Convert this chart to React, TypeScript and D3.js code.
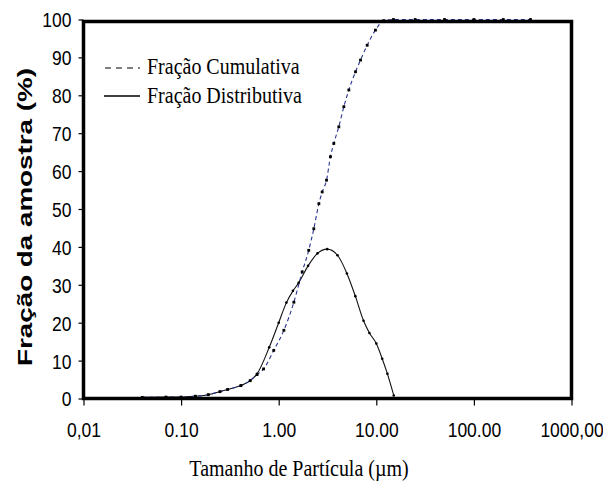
import React, { useEffect, useRef } from "react";
import * as d3 from "d3";

// particle size (µm) and % for each curve
const distSize = [0.04, 0.07, 0.1, 0.14, 0.19, 0.25, 0.3, 0.41, 0.51, 0.6, 0.8, 1.0, 1.2, 1.4, 1.6, 2.0, 2.5, 3.14, 4.0, 5.0, 6.1, 7.4, 8.5, 10, 11.5, 13, 15.1];
const distValue = [0.3, 0.35, 0.35, 0.6, 1.0, 1.8, 2.4, 3.4, 4.7, 6.5, 13.5, 20, 25.3, 28.4, 30.5, 35, 38.3, 39.4, 37.8, 33, 27, 20.5, 17.3, 14.5, 10.5, 6.5, 0.8];

const cumSize = [0.04, 0.07, 0.1, 0.14, 0.19, 0.25, 0.3, 0.41, 0.51, 0.6, 0.7, 0.89, 1.13, 1.43, 1.74, 2.03, 2.29, 2.58, 2.79, 3.09, 3.39, 3.67, 4.13, 4.65, 5.23, 6.12, 6.89, 8.06, 9.8, 11.9, 15, 25, 50, 100, 200, 380];
const cumValue = [0.3, 0.35, 0.35, 0.6, 1.0, 1.8, 2.4, 3.4, 4.7, 6.3, 7.8, 12.7, 18, 25.4, 33.4, 39.1, 44.8, 51.4, 54.5, 57.6, 63.8, 67.3, 71.7, 77, 81.4, 86.2, 89.3, 93.2, 97.2, 99.7, 100, 100, 100, 100, 100, 100];

const xTicks = [0.01, 0.1, 1, 10, 100, 1000];
const xTickLabels = ["0,01", "0.10", "1.00", "10.00", "100.00", "1000,00"];
const yTicks = [0, 10, 20, 30, 40, 50, 60, 70, 80, 90, 100];

const legendLabels = ["Fração Cumulativa", "Fração Distributiva"];

const left = 83.5, right = 571.5, top = 19.5, bottom = 398.5;

export default function App() {
  const gRef = useRef<SVGGElement | null>(null);

  useEffect(() => {
    const g = d3.select(gRef.current);
    g.selectAll("*").remove();

    const stretch = 1.18; // the source picture is a bit taller than wide

    const x = d3.scaleLog().domain([0.01, 1000]).range([left, right]);
    const y = d3.scaleLinear().domain([0, 100]).range([bottom, top]);

    // axes
    const xAxis = g.append("g")
      .attr("transform", `translate(0,${bottom})`)
      .call(d3.axisBottom(x).tickValues(xTicks).tickFormat((d, i) => xTickLabels[i]).tickSize(7));
    xAxis.select(".domain").remove();
    xAxis.selectAll("line").attr("stroke", "#000").attr("stroke-width", 1.2);
    xAxis.selectAll("text")
      .attr("y", 0).attr("dy", null)
      .attr("transform", `translate(0,38) scale(1,${stretch})`)
      .attr("font-family", "Liberation Sans, Arial, sans-serif")
      .attr("font-size", 17.5)
      .attr("fill", "#000");

    const yAxis = g.append("g")
      .attr("transform", `translate(${left},0)`)
      .call(d3.axisLeft(y).tickValues(yTicks).tickSize(5));
    yAxis.select(".domain").remove();
    yAxis.selectAll("line").attr("stroke", "#000").attr("stroke-width", 1.2);
    yAxis.selectAll("text")
      .attr("x", 0).attr("dy", "0.36em")
      .attr("transform", `translate(-12,0) scale(1,${stretch})`)
      .attr("font-family", "Liberation Sans, Arial, sans-serif")
      .attr("font-size", 17.5)
      .attr("fill", "#000");

    const path = d3.line().curve(d3.curveMonotoneX);
    const cumPts: [number, number][] = cumSize.map((s, i) => [x(s), y(cumValue[i])]);
    const distPts: [number, number][] = distSize.map((s, i) => [x(s), y(distValue[i])]);

    // distributive curve
    g.append("path")
      .attr("d", path(distPts))
      .attr("fill", "none").attr("stroke", "#111").attr("stroke-width", 1.1);
    g.selectAll(".dm").data(distPts).enter().append("circle")
      .attr("class", "dm")
      .attr("cx", d => d[0]).attr("cy", d => d[1]).attr("r", 1.3).attr("fill", "#000");

    // cumulative curve
    g.append("path")
      .attr("d", path(cumPts))
      .attr("fill", "none").attr("stroke", "#2a3590").attr("stroke-width", 1.1)
      .attr("stroke-dasharray", "4,3");
    g.selectAll(".cm").data(cumPts).enter().append("rect")
      .attr("class", "cm")
      .attr("x", d => d[0] - 1.4).attr("y", d => d[1] - 1.4)
      .attr("width", 2.8).attr("height", 2.8).attr("fill", "#000");

    // legend
    const legend = g.append("g");
    legend.append("line")
      .attr("x1", 105).attr("x2", 140).attr("y1", 68).attr("y2", 68)
      .attr("stroke", "#000").attr("stroke-width", 1.2).attr("stroke-dasharray", "6,5");
    legend.append("line")
      .attr("x1", 104).attr("x2", 140).attr("y1", 96).attr("y2", 96)
      .attr("stroke", "#000").attr("stroke-width", 1.5);
    legend.selectAll("text").data(legendLabels).enter().append("text")
      .attr("transform", (d, i) => `translate(147,${74 + i * 28.5}) scale(1,${stretch})`)
      .attr("font-family", "Liberation Serif, Times New Roman, serif")
      .attr("font-size", 20)
      .attr("fill", "#000")
      .text(d => d);

    // axis titles
    g.append("text")
      .attr("transform", `translate(299,476) scale(1,${stretch})`)
      .attr("text-anchor", "middle")
      .attr("font-family", "Liberation Serif, Times New Roman, serif")
      .attr("font-size", 20)
      .attr("fill", "#000")
      .text("Tamanho de Partícula (µm)");

    g.append("text")
      .attr("transform", "translate(31.5,217) rotate(-90)")
      .attr("text-anchor", "middle")
      .attr("font-family", "Liberation Sans, Arial, sans-serif")
      .attr("font-weight", "bold")
      .attr("font-size", 21)
      .attr("textLength", 298)
      .attr("lengthAdjust", "spacingAndGlyphs")
      .attr("fill", "#000")
      .text("Fração da amostra (%)");
  }, []);

  return (
    <svg width={603} height={486} style={{ position: "absolute", left: 0, top: 0, background: "#fff" }}>
      <g ref={gRef}></g>
      {/* plot frame */}
      <path d={`M${left},${top + 2}H${right}V${bottom}H${left}Z`}
        fill="none" stroke="#000" strokeWidth={3.5} />
    </svg>
  );
}
